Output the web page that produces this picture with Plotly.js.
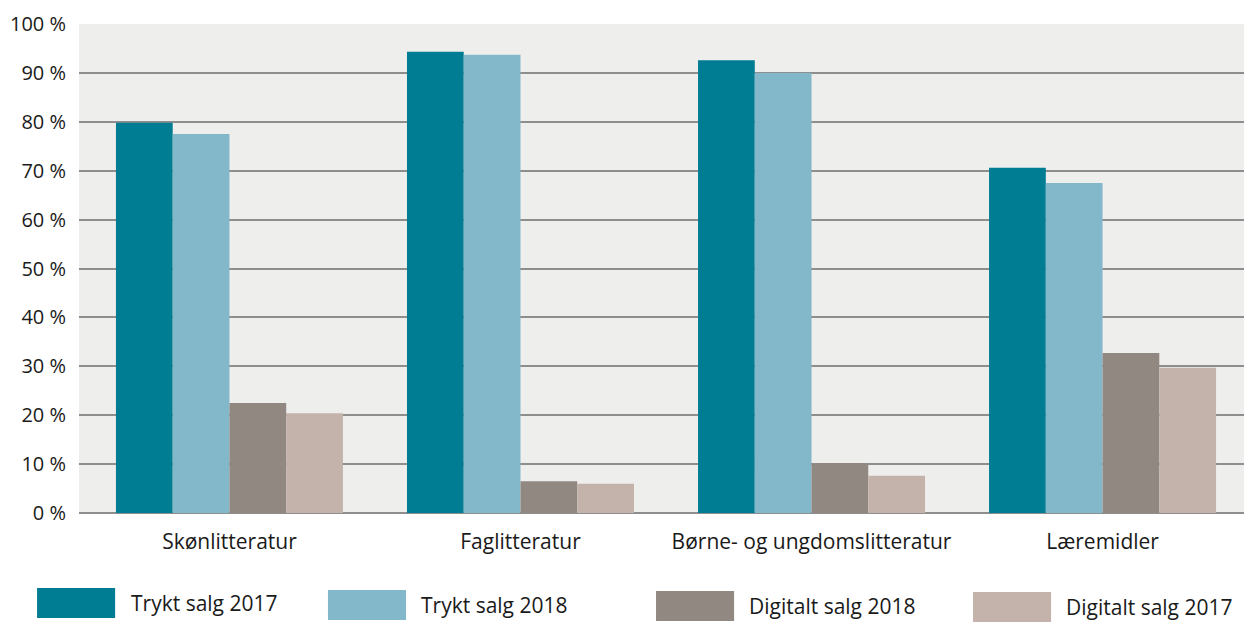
<!DOCTYPE html>
<html>
<head>
<meta charset="utf-8">
<script src="https://cdn.plot.ly/plotly-3.0.1.min.js"></script>
<style>html,body{margin:0;padding:0;background:#fff;}#chart{width:1244px;height:639px;}</style>
</head>
<body>
<div id="chart"></div>
<script>
const categories = ["Skønlitteratur", "Faglitteratur", "Børne- og ungdomslitteratur", "Læremidler"];
const seriesNames = ["Trykt salg 2017", "Trykt salg 2018", "Digitalt salg 2018", "Digitalt salg 2017"];
const trykt2017 = [79.8, 94.3, 92.6, 70.6];
const trykt2018 = [77.5, 93.7, 90.0, 67.5];
const digitalt2018 = [22.5, 6.5, 10.2, 32.7];
const digitalt2017 = [20.4, 6.0, 7.6, 29.7];
const colors = ["#007d93", "#82b8c9", "#928882", "#c3b3ab"];
const yTicks = [0, 10, 20, 30, 40, 50, 60, 70, 80, 90, 100];

const values = [trykt2017, trykt2018, digitalt2018, digitalt2017];
const font = "'Open Sans', Roboto, 'DejaVu Sans', sans-serif";

const traces = values.map((v, i) => ({
  type: "bar",
  name: seriesNames[i],
  x: categories.map((c, k) => k),
  y: v,
  marker: {color: colors[i], line: {width: 0}},
  showlegend: false,
  hoverinfo: "y"
}));

// custom legend: large swatches with labels below the plot
const legendX = [-0.036, 0.2137, 0.4953, 0.7674];
const legendY = [-0.1534, -0.1575, -0.1595, -0.1616];
const swW = 0.067, swH = 0.0613;
const shapes = [];
const annotations = [];
seriesNames.forEach((n, i) => {
  shapes.push({type: "rect", xref: "paper", yref: "paper",
    x0: legendX[i], x1: legendX[i] + swW, y0: legendY[i] - swH, y1: legendY[i],
    fillcolor: colors[i], line: {width: 0}});
  annotations.push({xref: "paper", yref: "paper", x: legendX[i] + swW + 0.0115, y: legendY[i] - swH / 2,
    xanchor: "left", yanchor: "middle", showarrow: false, text: n,
    font: {family: font, size: 21, color: "#1a1a1a"}});
});

const layout = {
  width: 1244, height: 639,
  margin: {l: 79, r: 0, t: 24, b: 126},
  paper_bgcolor: "#ffffff",
  plot_bgcolor: "#eeeeec",
  barmode: "group",
  bargap: 0.22,
  bargroupgap: 0,
  showlegend: false,
  xaxis: {
    tickmode: "array", tickvals: categories.map((c, k) => k), ticktext: categories,
    range: [-0.517, 3.486], showgrid: false, zeroline: false, showline: false,
    ticks: "", ticklabelstandoff: 14,
    tickfont: {family: font, size: 21, color: "#1a1a1a"}
  },
  yaxis: {
    range: [0, 100], tickmode: "array", tickvals: yTicks,
    ticktext: yTicks.map(t => t + " %"),
    showgrid: true, gridcolor: "#8e8e8e", gridwidth: 2,
    zeroline: true, zerolinecolor: "#8e8e8e", zerolinewidth: 2,
    showline: false, ticks: "", ticklabelstandoff: 12,
    tickfont: {family: font, size: 20, color: "#1a1a1a"}
  },
  shapes: shapes,
  annotations: annotations
};

Plotly.newPlot("chart", traces, layout, {displayModeBar: false, staticPlot: true});
</script>
</body>
</html>
